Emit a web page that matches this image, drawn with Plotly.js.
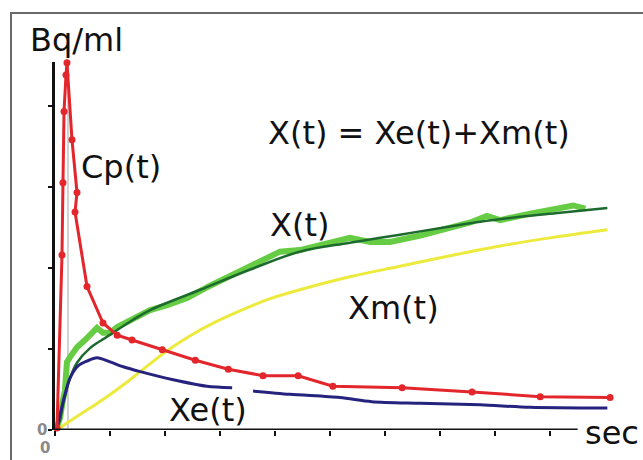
<!DOCTYPE html>
<html>
<head>
<meta charset="utf-8">
<script src="https://cdn.plot.ly/plotly-3.0.1.min.js"></script>
<style>
  html, body { margin: 0; padding: 0; background: #fff; overflow: hidden; }
  #wrap { position: relative; width: 643px; height: 460px; }
  #chart { width: 643px; height: 460px; }
  #frame { position: absolute; left: 10px; top: 12px; width: 700px; height: 500px;
           border-top: 2px solid #6a6a6a; border-left: 2px solid #6a6a6a; pointer-events: none; }
</style>
</head>
<body>
<div id="wrap"><div id="chart"></div><div id="frame"></div></div>
<script>
// Cp(t): plasma input (red, with markers)
const cpT = [0.36, 1.27, 1.45, 1.64, 2.0, 2.18, 3.09, 4.0, 3.64, 5.82, 8.73, 11.3, 14.0, 19.5, 25.5, 31.5, 37.8, 44.2, 50.5, 63.1, 75.8, 88.2, 100.9];
const cpV = [0.25, 21.6, 30.5, 39.3, 43.8, 45.3, 35.8, 29.3, 26.9, 17.7, 13.2, 11.7, 11.1, 9.9, 8.6, 7.5, 6.7, 6.7, 5.4, 5.2, 4.7, 4.1, 4.0];

// Xe(t): navy
const xeT = [0.18, 0.91, 1.64, 2.73, 4.18, 5.82, 7.64, 10, 12.4, 15.5, 21.5, 27.6, 32.2, null, 36, 42.7, 51.8, 57.6, 66.4, 77.3, 86.4, 100.4];
const xeV = [0, 1.85, 3.95, 6.4, 7.9, 8.5, 8.9, 8.4, 7.8, 7.2, 6.2, 5.4, 5.2, null, 4.8, 4.4, 4.0, 3.5, 3.3, 3.1, 2.8, 2.7];

// X(t) fitted: dark green
const xfitT = [0.18, 0.91, 1.45, 2.0, 2.73, 4.0, 6.36, 9.45, 14.2, 17.3, 26.4, 35.5, 44.5, 53.6, 62.7, 71.8, 77.3, 84.5, 91.8, 100.4];
const xfitV = [0, 1.2, 3.1, 4.7, 6.4, 8.3, 10.1, 11.5, 13.6, 14.8, 17.3, 19.8, 22.0, 23.1, 24.1, 25.1, 25.7, 26.3, 26.8, 27.4];

// X(t) measured: light green
const xmeasT = [0.18, 0.55, 0.91, 1.45, 1.82, 2.0, 2.18, 2.73, 3.27, 4.0, 5.45, 6.91, 7.64, 8.73, 10, 11.3, 14.2, 17.3, 20.4, 24, 28.2, 33.6, 37.3, 40.9, 44.5, 50, 53.6, 57.3, 60.9, 66.4, 71.8, 75.5, 78.5, 80.9, 86.4, 90.9, 94.2, 96.4];
const xmeasV = [0, 0.6, 1.5, 3.7, 4.9, 6.8, 8.4, 9.0, 9.6, 10.2, 11.1, 12.0, 12.6, 12.0, 12.0, 12.7, 13.8, 14.8, 15.4, 16.3, 17.8, 19.5, 20.7, 22.0, 22.2, 23.1, 23.7, 23.2, 23.2, 24.0, 24.9, 25.6, 26.4, 25.9, 26.7, 27.2, 27.7, 27.3];

// Xm(t): yellow
const xmT = [0.36, 2.73, 6.36, 9.45, 12.7, 15.5, 20.0, 24.5, 29.1, 33.6, 39.1, 44.5, 53.6, 62.7, 71.8, 80.9, 90.0, 100.4];
const xmV = [0, 1.1, 2.7, 4.1, 5.7, 7.2, 9.6, 11.6, 13.3, 14.7, 16.2, 17.3, 18.9, 20.2, 21.5, 22.7, 23.7, 24.7];

// thin gray reference line
const refT = [2.36, 2.36];
const refV = [0.25, 45.0];

const xTicks = [0, 10, 20, 30, 40, 50, 60, 70, 80, 90];
const yTicks = [0, 10, 20, 30, 40];

const traces = [
  {x: refT, y: refV, mode: 'lines', line: {color: '#c4c4c4', width: 1.5}, hoverinfo: 'skip'},
  {x: xmT, y: xmV, mode: 'lines', line: {color: '#ecea3c', width: 3, shape: 'spline', smoothing: 1}, name: 'Xm(t)'},
  {x: xmeasT, y: xmeasV, mode: 'lines', line: {color: '#66cc44', width: 6}, name: 'X(t)'},
  {x: xfitT, y: xfitV, mode: 'lines', line: {color: '#1d6a2e', width: 2.5, shape: 'spline', smoothing: 1}, name: 'X(t) fit'},
  {x: xeT, y: xeV, mode: 'lines', connectgaps: false, line: {color: '#26237e', width: 3, shape: 'spline', smoothing: 0.8}, name: 'Xe(t)'},
  {x: cpT, y: cpV, mode: 'lines+markers', cliponaxis: false, line: {color: '#e2262b', width: 3},
   marker: {color: '#e2262b', size: 7}, name: 'Cp(t)'}
];

const txtFont = {family: 'DejaVu Sans', size: 32, color: '#111'};
const zeroFont = {family: 'DejaVu Sans', size: 15, color: '#8a8a8a', weight: 'bold'};

function note(xref, yref, x, y, text, font) {
  return {xref: xref, yref: yref, x: x, y: y, text: text, showarrow: false,
          xanchor: 'center', yanchor: 'middle', font: font};
}

const layout = {
  width: 643, height: 460,
  margin: {l: 55, r: 23, t: 62, b: 30},
  paper_bgcolor: '#fff', plot_bgcolor: '#fff',
  showlegend: false,
  xaxis: {range: [0, 102.7], showgrid: false, zeroline: false, showline: false,
          tickvals: xTicks, ticks: 'outside', ticklen: 5, tickwidth: 2, tickcolor: '#111',
          showticklabels: false, fixedrange: true},
  yaxis: {range: [0, 45.4], showgrid: false, zeroline: false, showline: true,
          linecolor: '#111', linewidth: 3,
          tickvals: yTicks, ticks: 'outside', ticklen: 4, tickwidth: 2, tickcolor: '#111',
          showticklabels: false, fixedrange: true},
  shapes: [
    {type: 'line', xref: 'x', yref: 'y', x0: 0, x1: 95, y0: 0, y1: 0, line: {color: '#111', width: 3}}
  ],
  annotations: [
    note('paper', 'paper', 0.0372, 1.0598, 'Bq/ml', txtFont),
    note('paper', 'paper', 0.9858, -0.0082, 'sec', txtFont),
    note('x', 'y', 12, 32.5, 'Cp(t)', txtFont),
    note('x', 'y', 44.5, 25.3, 'X(t)', txtFont),
    note('x', 'y', 61.5, 15.1, 'Xm(t)', txtFont),
    note('x', 'y', 27.8, 2.5, 'Xe(t)', txtFont),
    note('x', 'y', 66.2, 36.7, 'X(t) = Xe(t)+Xm(t)', txtFont),
    note('paper', 'paper', -0.023, 0, '0', zeroFont),
    note('paper', 'paper', -0.0177, -0.049, '0', zeroFont)
  ]
};

Plotly.newPlot('chart', traces, layout, {displayModeBar: false, staticPlot: true});
</script>
</body>
</html>
